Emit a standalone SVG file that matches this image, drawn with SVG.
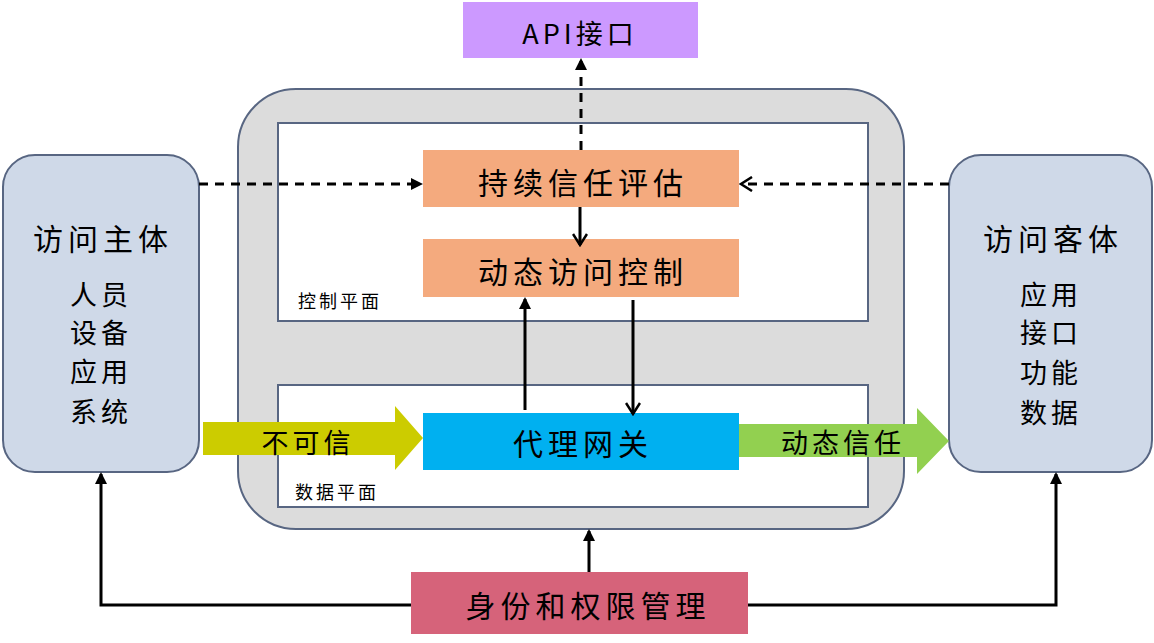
<svg xmlns="http://www.w3.org/2000/svg" width="1154" height="643" viewBox="0 0 1154 643">
<defs>
<style>
text{font-family:"Noto Sans CJK SC","Liberation Sans",sans-serif;fill:#000;text-anchor:middle;dominant-baseline:central}
.big{font-size:30px;letter-spacing:5px}
.mid{font-size:27px;letter-spacing:4px}
.small{font-size:18px;letter-spacing:3px}
.side{fill:#cfd9e8;stroke:#586682;stroke-width:2}
.plane{fill:#fff;stroke:#586682;stroke-width:2}
.solid{stroke:#000;stroke-width:3;fill:none}
.dash{stroke:#000;stroke-width:3;fill:none;stroke-dasharray:9,7}
</style>
<marker id="fa" markerWidth="12" markerHeight="12" refX="10" refY="6" orient="auto" markerUnits="userSpaceOnUse"><path d="M0,0 L12,6 L0,12 Z" fill="#000"/></marker>
<marker id="oa" markerWidth="14" markerHeight="16" refX="12" refY="8" orient="auto" markerUnits="userSpaceOnUse"><path d="M1,1 L12,8 L1,15" fill="none" stroke="#000" stroke-width="2.5"/></marker>
</defs>

<g id="platform">
<rect x="238" y="89" width="666" height="440" rx="58" fill="#dcdcdc" stroke="#586682" stroke-width="2"/>
</g>
<g id="control-plane">
<rect class="plane" x="278" y="123" width="590" height="198"/>
<text class="small" x="340" y="300">控制平面</text>
</g>
<g id="data-plane">
<rect class="plane" x="278" y="385" width="590" height="122"/>
<text class="small" x="337" y="491">数据平面</text>
</g>

<g id="subject">
<rect class="side" x="3" y="155" width="196" height="317" rx="32"/>
<text class="big" x="103" y="237">访问主体</text>
<text class="mid" x="101" y="293">人员</text>
<text class="mid" x="101" y="331">设备</text>
<text class="mid" x="101" y="370">应用</text>
<text class="mid" x="101" y="410">系统</text>
</g>
<g id="object">
<rect class="side" x="949" y="155" width="203" height="317" rx="32"/>
<text class="big" x="1053" y="237">访问客体</text>
<text class="mid" x="1051" y="293">应用</text>
<text class="mid" x="1051" y="331">接口</text>
<text class="mid" x="1051" y="371">功能</text>
<text class="mid" x="1051" y="411">数据</text>
</g>

<g id="api">
<rect x="463" y="2" width="235" height="56" fill="#cc99ff"/>
<text class="mid" x="580" y="32">API接口</text>
</g>
<g id="trust-eval">
<rect x="423" y="150" width="316" height="57" fill="#f4aa7e"/>
<text class="big" x="583" y="181">持续信任评估</text>
</g>
<g id="access-ctrl">
<rect x="423" y="239" width="316" height="58" fill="#f4aa7e"/>
<text class="big" x="583" y="270">动态访问控制</text>
</g>
<g id="gateway">
<rect x="423" y="413" width="316" height="57" fill="#00b0f0"/>
<text class="big" x="583" y="442">代理网关</text>
</g>
<g id="iam">
<rect x="411" y="572" width="337" height="62" fill="#d6637a"/>
<text class="big" x="588" y="604">身份和权限管理</text>
</g>

<g id="connectors">
<polygon points="203,422 395,422 395,406 423,438 395,470 395,455 203,455" fill="#cccc00"/>
<text class="mid" x="308" y="441">不可信</text>
<polygon points="739,424 917,424 917,408 949,441 917,474 917,457 739,457" fill="#92d050"/>
<text class="mid" x="843" y="441">动态信任</text>

<line class="dash" x1="199" y1="184" x2="421" y2="184" marker-end="url(#fa)"/>
<line class="dash" x1="949" y1="184" x2="741" y2="184" marker-end="url(#oa)"/>
<line class="dash" x1="581" y1="150" x2="581" y2="60" marker-end="url(#fa)"/>
<line class="solid" x1="580" y1="207" x2="580" y2="245" marker-end="url(#oa)"/>
<line class="solid" x1="525" y1="410" x2="525" y2="299" marker-end="url(#fa)"/>
<line class="solid" x1="633" y1="300" x2="633" y2="414" marker-end="url(#oa)"/>
<line class="solid" x1="589" y1="572" x2="589" y2="531" marker-end="url(#fa)"/>
<polyline class="solid" points="411,605 101,605 101,474" marker-end="url(#fa)"/>
<polyline class="solid" points="748,605 1056,605 1056,474" marker-end="url(#fa)"/>
</g>
</svg>
